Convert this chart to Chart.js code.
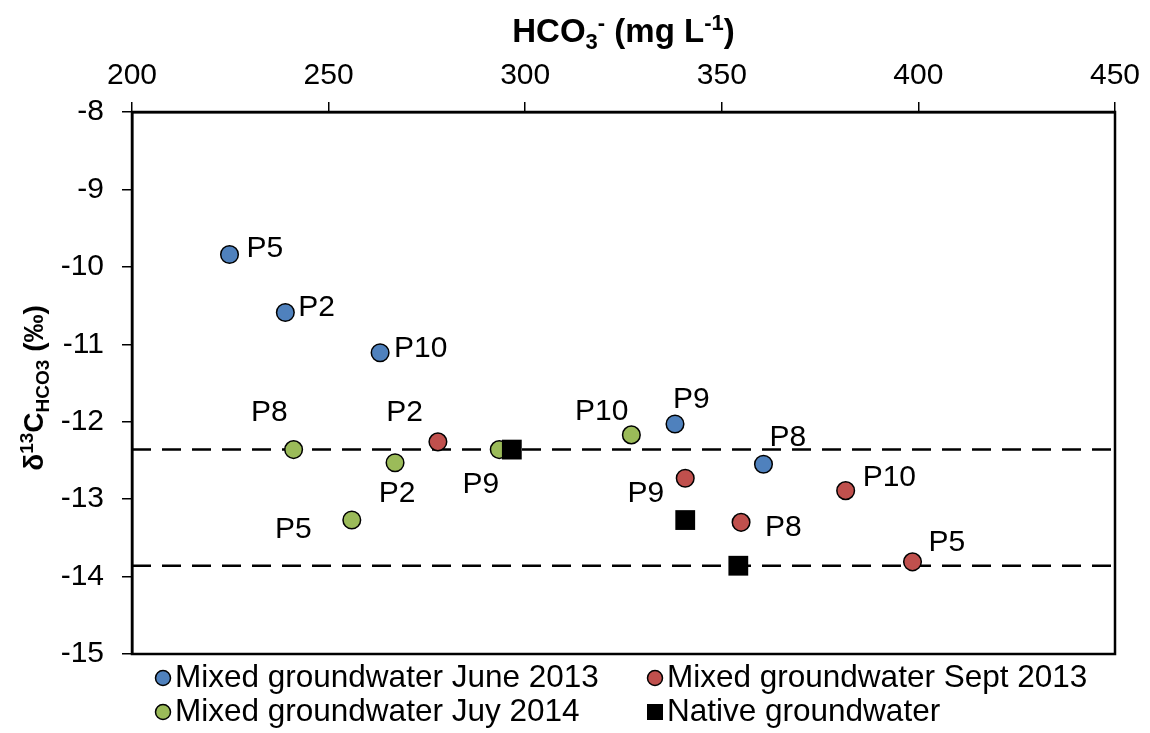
<!DOCTYPE html>
<html>
<head>
<meta charset="utf-8">
<script src="https://cdn.jsdelivr.net/npm/chart.js@4.4.1/dist/chart.umd.min.js"></script>
<style>
  html, body { margin: 0; padding: 0; background: #fff; }
  #wrap { width: 1150px; height: 733px; }
</style>
</head>
<body>
<div id="wrap"><canvas id="chart" width="1150" height="733"></canvas></div>
<script>
// --- data ---
const juneX = [224.8, 239.0, 263.1, 338.1, 360.6];
const juneY = [-9.84, -10.59, -11.11, -12.03, -12.55];
const juneLabels = ['P5', 'P2', 'P10', 'P9', 'P8'];

const septX = [277.8, 340.7, 354.9, 381.5, 398.5];
const septY = [-12.26, -12.73, -13.30, -12.89, -13.81];
const septLabels = ['P2', 'P9', 'P8', 'P10', 'P5'];

const julyX = [241.1, 266.9, 255.9, 293.4, 327.0];
const julyY = [-12.36, -12.53, -13.27, -12.36, -12.17];
const julyLabels = ['P8', 'P2', 'P5', 'P9', 'P10'];

const nativeX = [296.6, 340.7, 354.2];
const nativeY = [-12.36, -13.27, -13.86];

const refLevels = [-12.36, -13.86];
const xRange = [200, 450];
const yRange = [-15, -8];

const seriesNames = [
  'Mixed groundwater June 2013',
  'Mixed groundwater Sept 2013',
  'Mixed groundwater Juy 2014',
  'Native groundwater'
];

// label placement next to each point: [dx, dy, align]
const juneLabelPos = [[17, -6, 'left'], [13, -5, 'left'], [14, -4, 'left'], [-2, -24, 'left'], [6, -27, 'left']];
const septLabelPos = [[-15, -29, 'right'], [-21, 15, 'right'], [24, 5, 'left'], [17, -13, 'left'], [16, -19, 'left']];
const julyLabelPos = [[-6, -37, 'right'], [2, 31, 'center'], [-40, 10, 'right'], [0, 35, 'right'], [-3, -23, 'right']];

const FONT = '"Liberation Sans", Arial, sans-serif';
const BLUE = '#4F81BD', RED = '#C0504D', GREEN = '#9BBB59';

const toPts = (xs, ys) => xs.map((x, i) => ({ x: x, y: ys[i] }));

const pointSet = (label, xs, ys, color, order, labels, pos) => ({
  label: label,
  data: toPts(xs, ys),
  showLine: false,
  backgroundColor: color,
  borderColor: '#000',
  borderWidth: 1.5,
  pointRadius: 8.8,
  pointHoverRadius: 8.8,
  pointStyle: 'circle',
  order: order,
  pLabels: labels,
  pLabelPos: pos
});

const datasets = [
  pointSet(seriesNames[0], juneX, juneY, BLUE, 2, juneLabels, juneLabelPos),
  pointSet(seriesNames[1], septX, septY, RED, 2, septLabels, septLabelPos),
  pointSet(seriesNames[2], julyX, julyY, GREEN, 2, julyLabels, julyLabelPos),
  {
    label: seriesNames[3],
    data: toPts(nativeX, nativeY),
    showLine: false,
    backgroundColor: '#000',
    borderColor: '#000',
    borderWidth: 0,
    pointStyle: 'rect',
    pointRadius: 14,
    pointHoverRadius: 14,
    order: 0
  }
];
refLevels.forEach(v => {
  datasets.push({
    label: 'ref',
    data: [{ x: xRange[0], y: v }, { x: xRange[1], y: v }],
    showLine: true,
    borderColor: '#000',
    borderWidth: 2.5,
    borderDash: [19, 11],
    pointRadius: 0,
    fill: false,
    order: 9
  });
});

// draws a run of text pieces [text, size, dy] centred on x
function drawRich(ctx, parts, x, y) {
  let total = 0;
  parts.forEach(p => {
    ctx.font = 'bold ' + p[1] + 'px ' + FONT;
    total += ctx.measureText(p[0]).width;
  });
  let cx = x - total / 2;
  ctx.textAlign = 'left';
  ctx.textBaseline = 'alphabetic';
  parts.forEach(p => {
    ctx.font = 'bold ' + p[1] + 'px ' + FONT;
    ctx.fillText(p[0], cx, y + p[2]);
    cx += ctx.measureText(p[0]).width;
  });
}

const decorPlugin = {
  id: 'decor',
  afterDatasetsDraw(chart) {
    const ctx = chart.ctx;
    const a = chart.chartArea;
    ctx.save();
    // frame
    ctx.strokeStyle = '#000';
    ctx.lineWidth = 2.5;
    ctx.strokeRect(a.left, a.top, a.right - a.left, a.bottom - a.top);

    // point labels
    ctx.fillStyle = '#000';
    ctx.font = '30px ' + FONT;
    ctx.textBaseline = 'middle';
    chart.data.datasets.forEach((ds, di) => {
      if (!ds.pLabels) return;
      const meta = chart.getDatasetMeta(di);
      meta.data.forEach((el, i) => {
        const p = ds.pLabelPos[i];
        ctx.textAlign = p[2];
        ctx.fillText(ds.pLabels[i], el.x + p[0], el.y + p[1]);
      });
    });

    // axis titles
    const cx = (a.left + a.right) / 2;
    drawRich(ctx, [['HCO', 33, 0], ['3', 22, 7], ['-', 22, -12], [' (mg L', 33, 0], ['-1', 22, -12], [')', 33, 0]], cx, 42);

    ctx.save();
    ctx.translate(43, 388);
    ctx.rotate(-Math.PI / 2);
    drawRich(ctx, [['δ', 28, 0], ['13', 19, -10], ['C', 28, 0], ['HCO3', 19, 6], [' (‰)', 28, 0]], 0, 0);
    ctx.restore();

    // legend
    const items = [
      [0, 163, 678], [1, 655, 678], [2, 163, 712], [3, 655, 712]
    ];
    ctx.font = '31.5px ' + FONT;
    ctx.textAlign = 'left';
    ctx.textBaseline = 'middle';
    items.forEach(it => {
      const ds = chart.data.datasets[it[0]];
      ctx.fillStyle = ds.backgroundColor;
      ctx.strokeStyle = '#000';
      ctx.lineWidth = 1.5;
      if (ds.pointStyle === 'rect') {
        ctx.fillRect(it[1] - 8, it[2] - 8, 16, 16);
      } else {
        ctx.beginPath();
        ctx.arc(it[1], it[2], 7.5, 0, Math.PI * 2);
        ctx.fill();
        ctx.stroke();
      }
      ctx.fillStyle = '#000';
      ctx.fillText(ds.label, it[1] + 12, it[2]);
    });
    ctx.restore();
  }
};

new Chart(document.getElementById('chart'), {
  type: 'scatter',
  data: { datasets: datasets },
  options: {
    responsive: false,
    animation: false,
    events: [],
    layout: { padding: { left: 0, top: 0, right: 35, bottom: 79 } },
    plugins: {
      legend: { display: false },
      tooltip: { enabled: false }
    },
    scales: {
      x: {
        type: 'linear',
        position: 'top',
        min: xRange[0],
        max: xRange[1],
        ticks: { stepSize: 50, color: '#000', font: { size: 30, family: FONT }, padding: 8 },
        grid: { drawOnChartArea: false, drawTicks: true, tickLength: 10, color: '#000', lineWidth: 1.5 },
        border: { display: true, color: '#000', width: 2.5 },
        afterFit(s) { s.height = 112; s.paddingLeft = 0; s.paddingRight = 0; }
      },
      y: {
        type: 'linear',
        position: 'left',
        min: yRange[0],
        max: yRange[1],
        ticks: { stepSize: 1, color: '#000', font: { size: 30, family: FONT }, padding: 18 },
        grid: { drawOnChartArea: false, drawTicks: true, tickLength: 10, color: '#000', lineWidth: 1.5 },
        border: { display: true, color: '#000', width: 2.5 },
        afterFit(s) { s.width = 132; s.paddingTop = 0; s.paddingBottom = 0; }
      }
    }
  },
  plugins: [decorPlugin]
});
</script>
</body>
</html>
